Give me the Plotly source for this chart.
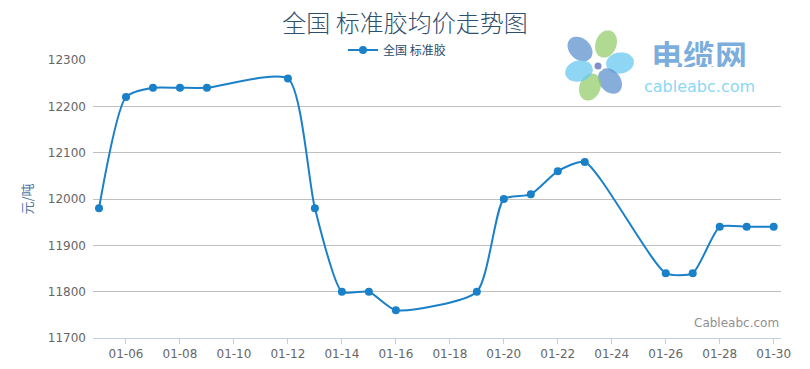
import math
import plotly.graph_objects as go

dates = ["2015-01-05", "2015-01-06", "2015-01-07", "2015-01-08", "2015-01-09",
         "2015-01-12", "2015-01-13", "2015-01-14", "2015-01-15", "2015-01-16",
         "2015-01-19", "2015-01-20", "2015-01-21", "2015-01-22", "2015-01-23",
         "2015-01-26", "2015-01-27", "2015-01-28", "2015-01-29", "2015-01-30"]
prices = [11980, 12220, 12240, 12240, 12240,
          12260, 11980, 11800, 11800, 11760,
          11800, 12000, 12010, 12060, 12080,
          11840, 11840, 11940, 11940, 11940]
series_name = "全国 标准胶"
title_text = "全国 标准胶均价走势图"
y_title = "元/吨"
y_ticks = [11700, 11800, 11900, 12000, 12100, 12200, 12300]

LINE = "#1A80C8"
W, H = 810, 369
L, R, T, B = 93, 29, 60, 31
PW, PH = W - L - R, H - T - B

fig = go.Figure()
fig.add_trace(go.Scatter(
    x=dates, y=prices, name=series_name, mode="lines+markers",
    line=dict(color=LINE, width=2, shape="spline", smoothing=0.6),
    marker=dict(color=LINE, size=8),
))

fig.update_layout(
    width=W, height=H,
    margin=dict(l=L, r=R, t=T, b=B, autoexpand=False),
    paper_bgcolor="white", plot_bgcolor="white",
    font=dict(family="DejaVu Sans, Verdana, sans-serif", size=12, color="#666666"),
    title=dict(text=title_text, x=0.5, xref="container", xanchor="center",
               y=1 - 24 / H, yref="container", yanchor="middle",
               font=dict(family="Noto Sans CJK SC", size=24, color="#2F4F6F", weight=300)),
    showlegend=True,
    legend=dict(orientation="h", x=0.5 - 8 / W, xref="container", xanchor="center",
                y=1 - 50 / H, yref="container", yanchor="middle",
                font=dict(family="Noto Sans CJK SC", size=12, color="#274B6D"),
                bgcolor="rgba(0,0,0,0)"),
    xaxis=dict(
        type="date", range=["2015-01-04 18:40", "2015-01-30 06:30"],
        tick0="2015-01-06", dtick=2 * 86400000, tickformat="%m-%d",
        showgrid=False, zeroline=False, automargin=False,
        showline=True, linecolor="#C0D0E0", linewidth=1,
        ticks="outside", ticklen=5, tickcolor="#C0D0E0", tickwidth=1,
        tickfont=dict(size=12, color="#666666"),
        fixedrange=True,
    ),
    yaxis=dict(
        range=[11700, 12300], tickvals=y_ticks, tickformat="d",
        showgrid=True, gridcolor="#C0C0C0", gridwidth=1,
        zeroline=False, showline=False, ticks="", automargin=False,
        ticklabelstandoff=6,
        tickfont=dict(size=12, color="#666666"),
        title=dict(text=y_title, standoff=12,
                   font=dict(family="Noto Sans CJK SC", size=13, color="#4D759E")),
        fixedrange=True,
    ),
)


def fx(x):
    return (x - L) / PW


def fy(y):
    return (H - B - y) / PH


# watermark text at bottom-right of the plot
fig.add_annotation(text="Cableabc.com", xref="paper", yref="paper", x=fx(781), y=fy(323),
                   xanchor="right", yanchor="middle", showarrow=False,
                   font=dict(family="DejaVu Sans", size=12, color="#909090"))

# logo: flower petals (rotated ellipses) + text
CX, CY = 598, 66
petals = [
    (580, 49, "rgba(95,145,205,0.75)"),
    (606, 44, "rgba(150,205,110,0.75)"),
    (620, 63, "rgba(105,200,240,0.75)"),
    (610, 81, "rgba(95,145,205,0.75)"),
    (590, 87, "rgba(150,205,110,0.75)"),
    (579, 71, "rgba(105,200,240,0.75)"),
]
for px_, py_, col in petals:
    ang = math.atan2(py_ - CY, px_ - CX)
    a, b = 14, 10.5
    pts = []
    for k in range(36):
        t = 2 * math.pi * k / 36
        ex, ey = a * math.cos(t), b * math.sin(t)
        X = px_ + ex * math.cos(ang) - ey * math.sin(ang)
        Y = py_ + ex * math.sin(ang) + ey * math.cos(ang)
        pts.append(f"{fx(X):.5f},{fy(Y):.5f}")
    path = "M" + " L".join(pts) + " Z"
    fig.add_shape(type="path", path=path, xref="paper", yref="paper",
                  fillcolor=col, line=dict(width=0), layer="above")
fig.add_shape(type="circle", xref="paper", yref="paper",
              x0=fx(CX - 6), x1=fx(CX + 6), y0=fy(CY + 6), y1=fy(CY - 6),
              fillcolor="white", line=dict(width=0), layer="above")
fig.add_shape(type="circle", xref="paper", yref="paper",
              x0=fx(CX - 3.5), x1=fx(CX + 3.5), y0=fy(CY + 3.5), y1=fy(CY - 3.5),
              fillcolor="#8190C8", line=dict(width=0), layer="above")

fig.add_annotation(text="<b>电缆网</b>", xref="paper", yref="paper",
                   x=fx(699), y=fy(54), height=26,
                   xanchor="center", yanchor="middle", showarrow=False,
                   font=dict(family="Noto Sans CJK SC", size=32, color="rgba(100,160,215,0.85)"))
fig.add_annotation(text="cableabc.com", xref="paper", yref="paper",
                   x=fx(699), y=fy(87), height=15,
                   xanchor="center", yanchor="middle", showarrow=False,
                   font=dict(family="DejaVu Sans", size=16, color="rgba(120,210,245,0.9)"))

fig.write_html("out.html")
